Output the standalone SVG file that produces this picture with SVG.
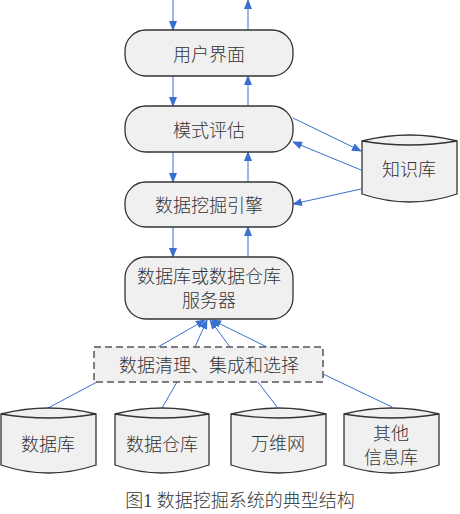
<svg xmlns="http://www.w3.org/2000/svg" width="460" height="514" viewBox="0 0 460 514">
<defs>
<marker id="ah" markerUnits="userSpaceOnUse" markerWidth="10" markerHeight="8" refX="9" refY="4" orient="auto">
<path d="M0,0 L10,4 L0,8 Z" fill="#3a6fd0"/>
</marker>
<style>
.box{fill:#f0f0f0;stroke:#333;stroke-width:1.3}
.dash{fill:#f0f0f0;stroke:#555;stroke-width:1.5;stroke-dasharray:7,4}
.cyl{fill:#f0f0f0;stroke:#333;stroke-width:1.3}
.t{font-family:"Noto Sans CJK SC","Noto Sans",sans-serif;font-size:18px;font-weight:300;fill:#333;text-anchor:middle;dominant-baseline:central}
.cap{font-family:"Liberation Serif","Noto Sans CJK SC",serif;font-size:18px;font-weight:300;fill:#333;text-anchor:middle}
.c{stroke:#3a6fd0;stroke-width:1;fill:none}
.a{marker-end:url(#ah)}
</style>
</defs>
<rect width="460" height="514" fill="#fff"/>
<g id="connectors">
<line class="c a" x1="173" y1="0" x2="173" y2="30"/>
<line class="c a" x1="248" y1="30" x2="248" y2="0"/>
<line class="c a" x1="173" y1="76" x2="173" y2="106"/>
<line class="c a" x1="248" y1="106" x2="248" y2="76"/>
<line class="c a" x1="173" y1="152" x2="173" y2="182"/>
<line class="c a" x1="248" y1="182" x2="248" y2="152"/>
<line class="c a" x1="173" y1="227" x2="173" y2="257"/>
<line class="c a" x1="248" y1="257" x2="248" y2="227"/>
<line class="c a" x1="158" y1="347" x2="205" y2="320"/>
<line class="c a" x1="195" y1="347" x2="207" y2="320"/>
<line class="c a" x1="230" y1="347" x2="210" y2="320"/>
<line class="c a" x1="267" y1="347" x2="212" y2="320"/>
<line class="c" x1="48" y1="408" x2="97" y2="382"/>
<line class="c" x1="162" y1="408" x2="177" y2="382"/>
<line class="c" x1="277" y1="407" x2="258" y2="382"/>
<line class="c" x1="392" y1="407" x2="323" y2="374"/>
<line class="c a" x1="293" y1="118" x2="361" y2="151"/>
<line class="c a" x1="361" y1="170" x2="293" y2="142"/>
<line class="c a" x1="361" y1="189" x2="293" y2="204"/>
</g>
<g id="ui">
<rect class="box" x="125" y="30" width="168" height="46" rx="21"/>
<text class="t" x="209" y="53">用户界面</text>
</g>
<g id="eval">
<rect class="box" x="125" y="106" width="168" height="46" rx="21"/>
<text class="t" x="209" y="129">模式评估</text>
</g>
<g id="engine">
<rect class="box" x="125" y="182" width="168" height="45" rx="21"/>
<text class="t" x="209" y="204">数据挖掘引擎</text>
</g>
<g id="server">
<rect class="box" x="125" y="257" width="168" height="62" rx="21"/>
<text class="t" x="209" y="275">数据库或数据仓库</text>
<text class="t" x="209" y="299">服务器</text>
</g>
<g id="clean">
<rect class="dash" x="94" y="347" width="229" height="35"/>
<text class="t" x="209" y="364">数据清理、集成和选择</text>
</g>
<g id="kb">
<path class="cyl" d="M362,141 Q409.5,129 457,141 L457,194 Q409.5,210 362,194 Z"/>
<path class="cyl" fill="none" d="M362,141 Q409.5,149 457,141"/>
<text class="t" x="409" y="168">知识库</text>
</g>
<g id="db">
<path class="cyl" d="M1,414 Q48.5,402 96,414 L96,465 Q48.5,481 1,465 Z"/>
<path class="cyl" fill="none" d="M1,414 Q48.5,422 96,414"/>
<text class="t" x="48" y="443">数据库</text>
</g>
<g id="dw">
<path class="cyl" d="M115,414 Q162,402 209,414 L209,465 Q162,481 115,465 Z"/>
<path class="cyl" fill="none" d="M115,414 Q162,422 209,414"/>
<text class="t" x="162" y="443">数据仓库</text>
</g>
<g id="www">
<path class="cyl" d="M231,414 Q278.5,402 326,414 L326,465 Q278.5,481 231,465 Z"/>
<path class="cyl" fill="none" d="M231,414 Q278.5,422 326,414"/>
<text class="t" x="278" y="442">万维网</text>
</g>
<g id="other">
<path class="cyl" d="M344,414 Q391.5,402 439,414 L439,465 Q391.5,481 344,465 Z"/>
<path class="cyl" fill="none" d="M344,414 Q391.5,422 439,414"/>
<text class="t" x="391" y="432">其他</text>
<text class="t" x="391" y="456">信息库</text>
</g>
<text class="cap" x="240" y="507">图1 数据挖掘系统的典型结构</text>
</svg>
